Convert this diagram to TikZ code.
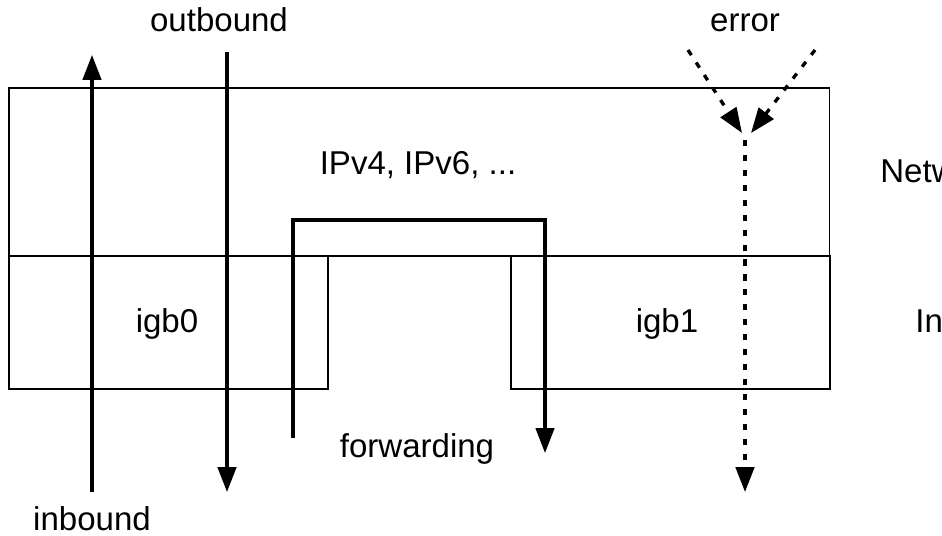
\documentclass[tikz,border=0pt]{standalone}
\usepackage{fontspec}
\setmainfont{Liberation Sans}
\usetikzlibrary{arrows.meta}

\begin{document}
\begin{tikzpicture}[x=0.02cm, y=-0.02cm,
  layer/.style={rectangle, draw=black, line width=0.9pt, inner sep=0pt, anchor=north west},
  tag/.style={inner sep=0pt, anchor=base, font=\fontsize{18.8}{22}\selectfont},
  arrow/.style={-{Triangle[length=5mm, width=3.7mm]}, line width=1.8pt},
  errarrow/.style={arrow, line width=1.9pt, dash pattern=on 3.5pt off 5pt}
]
  \useasboundingbox (0,0) rectangle (942,536);

  % layers
  \node[layer, minimum width=16.42cm, minimum height=3.36cm] (network) at (8,87) {};
  \node[layer, minimum width=6.38cm, minimum height=2.66cm] (igb0) at (8,255) {};
  \node[layer, minimum width=6.38cm, minimum height=2.66cm] (igb1) at (510,255) {};

  % labels
  \node[tag] (proto) at (418,175) {IPv4, IPv6, ...};
  \node[tag] (igb0name) at (167,333) {igb0};
  \node[tag] (igb1name) at (667,333) {igb1};
  \node[tag] (outlbl) at (219,32) {outbound};
  \node[tag] (errlbl) at (745,32) {error};
  \node[tag] (fwdlbl) at (417,457) {forwarding};
  \node[tag] (inlbl) at (92,530) {inbound};
  \node[tag, anchor=base west] (netlbl) at (880,183) {Netw};
  \node[tag, anchor=base west] (iflbl) at (915,333) {In};

  % end points
  \coordinate (in0) at (92,492);
  \coordinate (in1) at (92,55);
  \coordinate (out0) at (227,52);
  \coordinate (out1) at (227,492);
  \coordinate (fwd0) at (293,438);
  \coordinate (fwdTop) at (293,220);
  \coordinate (fwd1) at (545,453);
  \coordinate (errL) at (688,50);
  \coordinate (errR) at (815,50);
  \coordinate (errTipL) at (742,133);
  \coordinate (errTipR) at (751,133);
  \coordinate (errTop) at (745,140);
  \coordinate (errBot) at (745,492);

  \draw[arrow] (in0) -- (in1);
  \draw[arrow] (out0) -- (out1);
  \draw[arrow] (fwd0) -- (fwdTop) -| (fwd1);
  \draw[errarrow] (errL) -- (errTipL);
  \draw[errarrow] (errR) -- (errTipR);
  \draw[errarrow] (errTop) -- (errBot);
\end{tikzpicture}
\end{document}
